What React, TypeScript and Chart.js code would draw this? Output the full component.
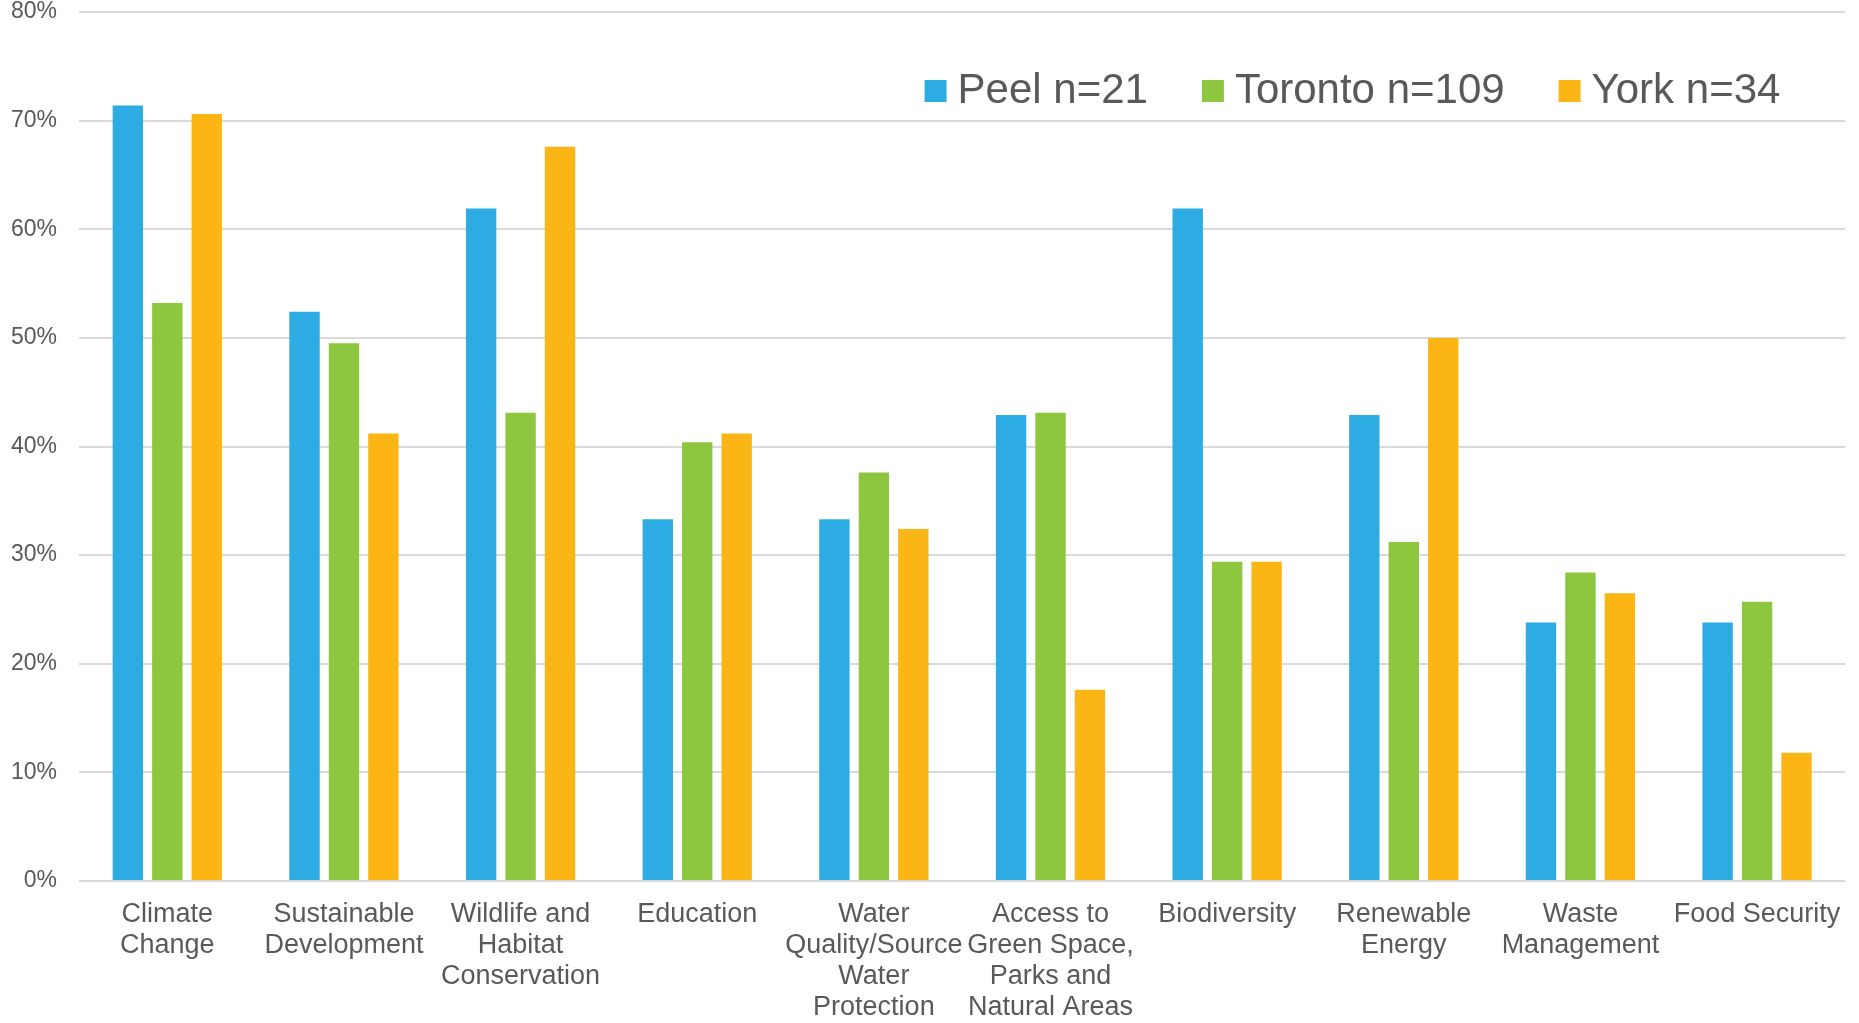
import React, { useEffect, useRef } from "react";
import { Chart, registerables } from "chart.js";

Chart.register(...registerables);

const categories: string[][] = [
  ["Climate", "Change"],
  ["Sustainable", "Development"],
  ["Wildlife and", "Habitat", "Conservation"],
  ["Education"],
  ["Water", "Quality/Source", "Water", "Protection"],
  ["Access to", "Green Space,", "Parks and", "Natural Areas"],
  ["Biodiversity"],
  ["Renewable", "Energy"],
  ["Waste", "Management"],
  ["Food Security"],
];

const seriesNames = ["Peel n=21", "Toronto n=109", "York n=34"];
const peelValues = [71.4, 52.4, 61.9, 33.3, 33.3, 42.9, 61.9, 42.9, 23.8, 23.8];
const torontoValues = [53.2, 49.5, 43.1, 40.4, 37.6, 43.1, 29.4, 31.2, 28.4, 25.7];
const yorkValues = [70.6, 41.2, 67.6, 41.2, 32.4, 17.6, 29.4, 50.0, 26.5, 11.8];
const seriesColors = ["#2DABE3", "#8DC63F", "#FBB616"];

const yMin = 0;
const yMax = 80;
const yStep = 10;

const FONT = "'Liberation Sans', Arial, sans-serif";
const TEXT_COLOR = "#595959";

const insideLegend = {
  id: "insideLegend",
  afterDraw(chart: any) {
    const ctx = chart.ctx;
    const area = chart.chartArea;
    const box = 22;
    const gapText = 11;
    const gapItem = 54;
    ctx.save();
    ctx.font = `42px ${FONT}`;
    ctx.textBaseline = "alphabetic";
    ctx.textAlign = "left";
    const items = chart.data.datasets.map((d: any) => ({
      label: d.label,
      color: d.backgroundColor,
      w: ctx.measureText(d.label).width,
    }));
    let total = 0;
    items.forEach((it: any, i: number) => {
      total += box + gapText + it.w + (i < items.length - 1 ? gapItem : 0);
    });
    let x = area.right - 65 - total;
    const boxTop = area.top + 68;
    const baseline = area.top + 91;
    items.forEach((it: any) => {
      ctx.fillStyle = it.color;
      ctx.fillRect(x, boxTop, box, box);
      x += box + gapText;
      ctx.fillStyle = TEXT_COLOR;
      ctx.fillText(it.label, x, baseline);
      x += it.w + gapItem;
    });
    ctx.restore();
  },
};

export default function App() {
  const canvasRef = useRef<HTMLCanvasElement | null>(null);

  useEffect(() => {
    if (!canvasRef.current) return;
    const values = [peelValues, torontoValues, yorkValues];
    const chart = new Chart(canvasRef.current, {
      type: "bar",
      data: {
        labels: categories,
        datasets: seriesNames.map((name, i) => ({
          label: name,
          data: values[i],
          backgroundColor: seriesColors[i],
          borderWidth: 0,
          barPercentage: 0.77,
          categoryPercentage: 0.67,
        })),
      },
      options: {
        responsive: false,
        animation: false,
        layout: { padding: { top: 12, right: 13, left: 0, bottom: 0 } },
        plugins: {
          legend: { display: false },
          tooltip: { enabled: false },
        },
        scales: {
          x: {
            grid: { display: false, drawTicks: false },
            border: { display: false },
            ticks: {
              color: TEXT_COLOR,
              font: { family: FONT, size: 27, lineHeight: 1.148 },
              padding: 18,
              maxRotation: 0,
              minRotation: 0,
              autoSkip: false,
            },
            afterFit(scale: any) {
              scale.height = 142;
            },
          },
          y: {
            min: yMin,
            max: yMax,
            grid: { color: "#D9D9D9", lineWidth: 2, drawTicks: false },
            border: { display: false },
            ticks: {
              stepSize: yStep,
              color: TEXT_COLOR,
              font: { family: FONT, size: 23 },
              padding: 22,
              callback: (v: any) => `${v}%`,
            },
            afterFit(scale: any) {
              scale.width = 79;
              scale.paddingTop = 11;
              scale.paddingBottom = 11;
            },
          },
        },
      },
      plugins: [insideLegend],
    });
    return () => chart.destroy();
  }, []);

  return (
    <div style={{ position: "absolute", left: 0, top: 0, width: 1859, height: 1023, background: "#fff" }}>
      <canvas ref={canvasRef} width={1859} height={1023} style={{ display: "block" }} />
    </div>
  );
}
